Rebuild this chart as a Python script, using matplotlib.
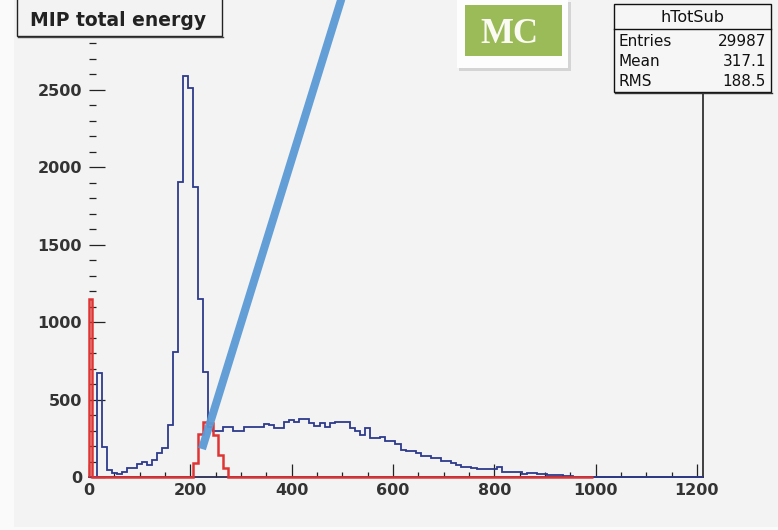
import numpy as np
import matplotlib
matplotlib.use("Agg")
import matplotlib.pyplot as plt
from matplotlib.patches import Rectangle
from matplotlib.lines import Line2D
from matplotlib.ticker import MultipleLocator

# ---------------- data (bin centres every 10, from 0) ----------------
bin_width = 10
blue_counts = [
    0, 0, 670, 195, 45, 28, 19, 34, 56, 56,
    85, 97, 75, 110, 153, 185, 335, 808, 1905, 2590,
    2510, 1870, 1150, 680, 325, 300, 300, 325, 325, 295,
    295, 325, 325, 325, 325, 340, 335, 314, 314, 357,
    368, 357, 372, 372, 346, 327, 346, 325, 346, 353,
    353, 353, 314, 299, 273, 314, 250, 250, 260, 234,
    234, 213, 175, 165, 165, 158, 135, 135, 120, 120,
    105, 105, 92, 77, 66, 66, 56, 50, 50, 50,
    50, 62, 35, 35, 35, 35, 19, 28, 28, 17,
    17, 13, 13, 13, 5, 4, 3, 3, 2, 2,
    2, 1, 1, 1, 1, 1, 0, 1, 0, 0,
    0, 0, 0, 0, 0, 0, 0, 0, 0, 0,
    0, 0,
]
red_counts = [1150] + [0] * 20 + [90, 275, 355, 350, 270, 145, 60] + [0] * 72

stats_title = "hTotSub"
stats_labels = ["Entries", "Mean", "RMS"]
stats_values = ["29987", "317.1", "188.5"]
title_text = "MIP total energy"

x_min, x_max = 0, 1212
y_min, y_max = 0, 2820

blue_edges = np.clip(np.arange(len(blue_counts) + 1) * bin_width - bin_width / 2, x_min, x_max)
red_edges = np.clip(np.arange(len(red_counts) + 1) * bin_width - bin_width / 2, x_min, x_max)

# ---------------- figure ----------------
W, H = 778, 530
fig = plt.figure(figsize=(W / 100, H / 100), dpi=100)
fig.patch.set_facecolor("#fafafa")

def fx(x):
    return x / W

def fy(y):
    return 1 - y / H

bg = "#f3f3f3"
fig.add_artist(Rectangle((fx(14), fy(527)), fx(778) - fx(14), fy(0) - fy(527),
                         facecolor=bg, edgecolor="none", zorder=-5))

ax = fig.add_axes([fx(89), fy(477), fx(703) - fx(89), fy(40) - fy(477)])
ax.patch.set_visible(False)

blue_col = "#2e3a8c"
red_col = "#e03434"
ax.stairs(blue_counts, blue_edges, color=blue_col, lw=1.3, baseline=0,
          zorder=3, clip_on=False)
ax.stairs(red_counts, red_edges, color=red_col, lw=1.8, baseline=0,
          zorder=4, clip_on=False)

ax.set_xlim(x_min, x_max)
ax.set_ylim(y_min, y_max)

for s in ["left", "top"]:
    ax.spines[s].set_visible(False)
ax.spines["right"].set_color("#222222")
ax.spines["bottom"].set_color("#2a2a50")
ax.spines["right"].set_linewidth(1.2)
ax.spines["bottom"].set_linewidth(1.3)

ax.xaxis.set_major_locator(MultipleLocator(200))
ax.xaxis.set_minor_locator(MultipleLocator(50))
ax.yaxis.set_major_locator(MultipleLocator(500))
ax.yaxis.set_minor_locator(MultipleLocator(100))
ax.tick_params(which="both", direction="in", top=False, right=False,
               color="#222222", width=0.9)
ax.tick_params(axis="x", which="major", length=9.5, pad=4)
ax.tick_params(axis="x", which="minor", length=3.6)
ax.tick_params(axis="y", which="major", length=11.5, pad=5)
ax.tick_params(axis="y", which="minor", length=5)
for lab in ax.get_xticklabels() + ax.get_yticklabels():
    lab.set_fontfamily("DejaVu Sans")
    lab.set_fontweight("bold")
    lab.set_fontsize(11.5)
    lab.set_color("#333333")

# ---------------- title box ----------------
fig.add_artist(Rectangle((fx(17), fy(36)), fx(222) - fx(17), fy(-5) - fy(36),
                         facecolor=bg, edgecolor="#222222", lw=1.0, zorder=5))
fig.add_artist(Line2D([fx(18), fx(223)], [fy(37), fy(37)], color="#444444", lw=1.0, zorder=5))
fig.text(fx(118), fy(20), title_text, ha="center", va="center", fontsize=13.5,
         fontweight="bold", family="DejaVu Sans", color="#222222", zorder=6)

# ---------------- MC box ----------------
fig.add_artist(Rectangle((fx(459), fy(71)), fx(571) - fx(459), fy(2) - fy(71),
                         facecolor="#d4d4d4", edgecolor="none", zorder=5))
fig.add_artist(Rectangle((fx(457), fy(68)), fx(568) - fx(457), fy(-2) - fy(68),
                         facecolor="#fdfdfd", edgecolor="none", zorder=5))
fig.add_artist(Rectangle((fx(465), fy(56)), fx(562) - fx(465), fy(5) - fy(56),
                         facecolor="#9bbb59", edgecolor="none", zorder=6))
fig.text(fx(509), fy(43), "MC", ha="center", va="baseline", fontsize=25,
         fontweight="bold", family="Liberation Serif", color="#fbfbf4", zorder=7)

# ---------------- stats box ----------------
fig.add_artist(Rectangle((fx(614), fy(92)), fx(771) - fx(614), fy(4) - fy(92),
                         facecolor="#f6f6f6", edgecolor="#111111", lw=1.0, zorder=5))
fig.add_artist(Line2D([fx(615), fx(772)], [fy(93), fy(93)], color="#333333", lw=1.0, zorder=5))
fig.add_artist(Line2D([fx(614), fx(771)], [fy(29), fy(29)], color="#111111", lw=1.0, zorder=6))
fig.text(fx(692), fy(17), stats_title, ha="center", va="center", fontsize=11.5,
         family="DejaVu Sans", color="#111111", zorder=6)
for i, (lab, val) in enumerate(zip(stats_labels, stats_values)):
    yy = 42 + i * 20
    fig.text(fx(619), fy(yy), lab, ha="left", va="center", fontsize=11,
             family="DejaVu Sans", color="#111111", zorder=6)
    fig.text(fx(766), fy(yy), val, ha="right", va="center", fontsize=11,
             family="DejaVu Sans", color="#111111", zorder=6)

# ---------------- hand-drawn blue annotation stroke ----------------
fig.add_artist(Line2D([fx(202), fx(342)], [fy(449), fy(-3)], lw=5.8, color="#5b9bd5",
                      solid_capstyle="butt", alpha=0.95, zorder=10))

fig.savefig("out.png", dpi=100, facecolor=fig.get_facecolor())
